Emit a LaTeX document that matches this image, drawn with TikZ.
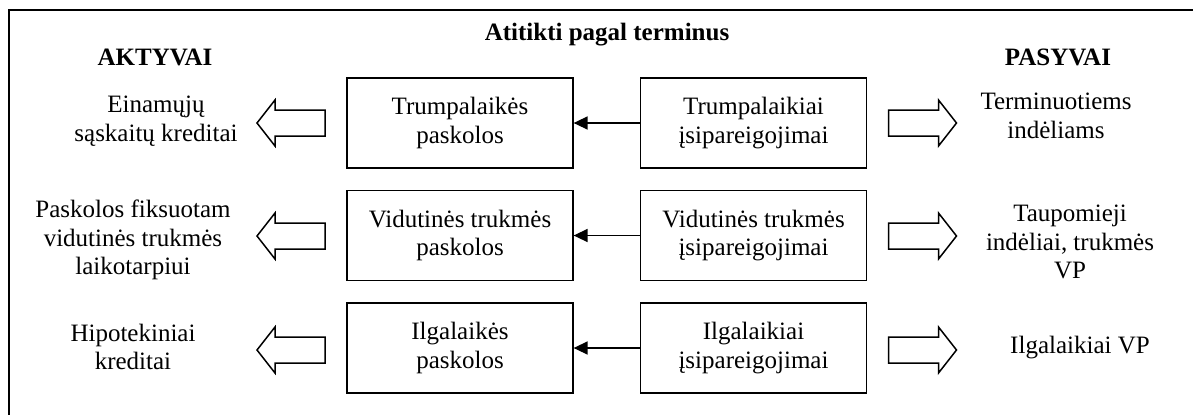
\documentclass[tikz,border=0pt]{standalone}
\usepackage{fontspec}
\setmainfont{Liberation Serif}
\usetikzlibrary{positioning, arrows.meta}

\begin{document}
\begin{tikzpicture}[
    x=0.4pt, y=-0.4pt,
    every node/.style={font=\fontsize{10}{11.5}\selectfont},
    head/.style={font=\fontsize{10}{11.5}\selectfont\bfseries},
    txt/.style={align=center},
    term/.style={draw, line width=0.5pt, align=center, minimum width=90.4pt, minimum height=36pt, inner sep=0pt},
    hollow/.pic={\draw[line width=0.6pt] (34,-13) -- (-16,-13) -- (-16,-23) -- (-34,0)
                 -- (-16,23) -- (-16,13) -- (34,13) -- cycle;},
    arrow/.style={-{Triangle[length=5.6pt, width=5.2pt]}, line width=0.6pt}
]
\useasboundingbox (0,0) rectangle (1193,414);

% Frame (open to the right and below)
\coordinate (frameTR) at (1200,10);
\coordinate (frameTL) at (9,10);
\coordinate (frameBL) at (9,420);
\draw[line width=0.7pt] (frameTR) -- (frameTL) -- (frameBL);

% Headings
\node[head] (title) at (607,35)  {Atitikti pagal terminus};
\node[head] (akt)   at (155,57)  {AKTYVAI};
\node[head] (pas)   at (1058,57) {PASYVAI};

% Loans and liabilities
\node[term] (paskS) at (460,123)   {Trumpalaikės\\paskolos};
\node[term] (isipS) at (753.5,123) {Trumpalaikiai\\įsipareigojimai};
\node[term] (paskM) at (460,235.5)   {Vidutinės trukmės\\paskolos};
\node[term] (isipM) at (753.5,235.5) {Vidutinės trukmės\\įsipareigojimai};
\node[term] (paskL) at (460,348)   {Ilgalaikės\\paskolos};
\node[term] (isipL) at (753.5,348) {Ilgalaikiai\\įsipareigojimai};

% Assets on the left
\node[txt] (aktS) at (156,121) {Einamųjų\\sąskaitų kreditai};
\node[txt] (aktM) at (133,240) {Paskolos fiksuotam\\vidutinės trukmės\\laikotarpiui};
\node[txt] (aktL) at (133,347) {Hipotekiniai\\kreditai};

% Liabilities on the right
\node[txt] (pasS) at (1056,116) {Terminuotiems\\indėliams};
\node[txt] (pasM) at (1070,242) {Taupomieji\\indėliai, trukmės\\VP};
\node[txt] (pasL) at (1080,348) {Ilgalaikiai VP};

% Hollow arrows
\pic (toAktS) at (291,123) {hollow};
\pic (toAktM) at (291,236) {hollow};
\pic (toAktL) at (291,350) {hollow};
\pic[xscale=-1] (toPasS) at (922.5,123) {hollow};
\pic[xscale=-1] (toPasM) at (922.5,236) {hollow};
\pic[xscale=-1] (toPasL) at (922.5,350) {hollow};

% Matching arrows
\draw[arrow] (isipS) -- (paskS);
\draw[arrow] (isipM) -- (paskM);
\draw[arrow] (isipL) -- (paskL);

\end{tikzpicture}
\end{document}
